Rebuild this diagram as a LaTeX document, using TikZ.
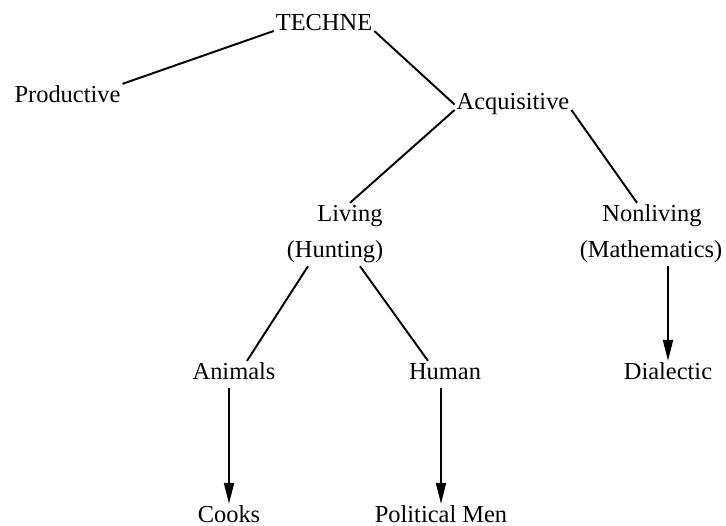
\documentclass[tikz,border=0pt]{standalone}
\usepackage{fontspec}
\setmainfont{Liberation Serif}
\usetikzlibrary{arrows.meta}

\begin{document}
\begin{tikzpicture}[every node/.style={anchor=base, inner sep=1pt, text height=9.7pt, text depth=3.5pt, font=\fontsize{13.9}{16.7}\selectfont},
  branch/.style={line width=1.1pt},
  down/.style={line width=1.1pt, -{Triangle[length=0.42cm,width=0.2cm]}}]
\useasboundingbox (0,0) rectangle (14.52,10.52);
% the words
\node (techne) at (6.48,9.90) {TECHNE};
\node (productive) at (1.35,8.46) {Productive};
\node (acq) at (10.26,8.32) {Acquisitive};
\node (living) at (7.00,6.08) {Living};
\node (hunting) at (6.70,5.36) {(Hunting)};
\node (nonliving) at (13.04,6.08) {Nonliving};
\node (maths) at (13.02,5.36) {(Mathematics)};
\node (animals) at (4.68,2.92) {Animals};
\node (human) at (8.90,2.92) {Human};
\node (dialectic) at (13.36,2.92) {Dialectic};
\node (cooks) at (4.58,0.06) {Cooks};
\node (political) at (8.82,0.06) {Political Men};
% the branches
\draw [branch] (techne.base west) -- (productive.north east);
\draw [branch] (techne.base east) -- (acq.west);
\draw [branch] (acq.base west) -- (living.north);
\draw [branch] (acq.base east) -- ([xshift=-0.3cm]nonliving.north);
\draw [branch] ([xshift=-0.54cm]hunting.south) -- ([xshift=0.26cm]animals.north);
\draw [branch] ([xshift=0.5cm]hunting.south) -- ([xshift=-0.34cm]human.north);
\draw [down] (cooks.north |- animals.south) -- (cooks.north);
\draw [down] (political.north |- human.south) -- (political.north);
\draw [down] (dialectic.north |- maths.south) -- (dialectic.north);
\end{tikzpicture}
\end{document}
